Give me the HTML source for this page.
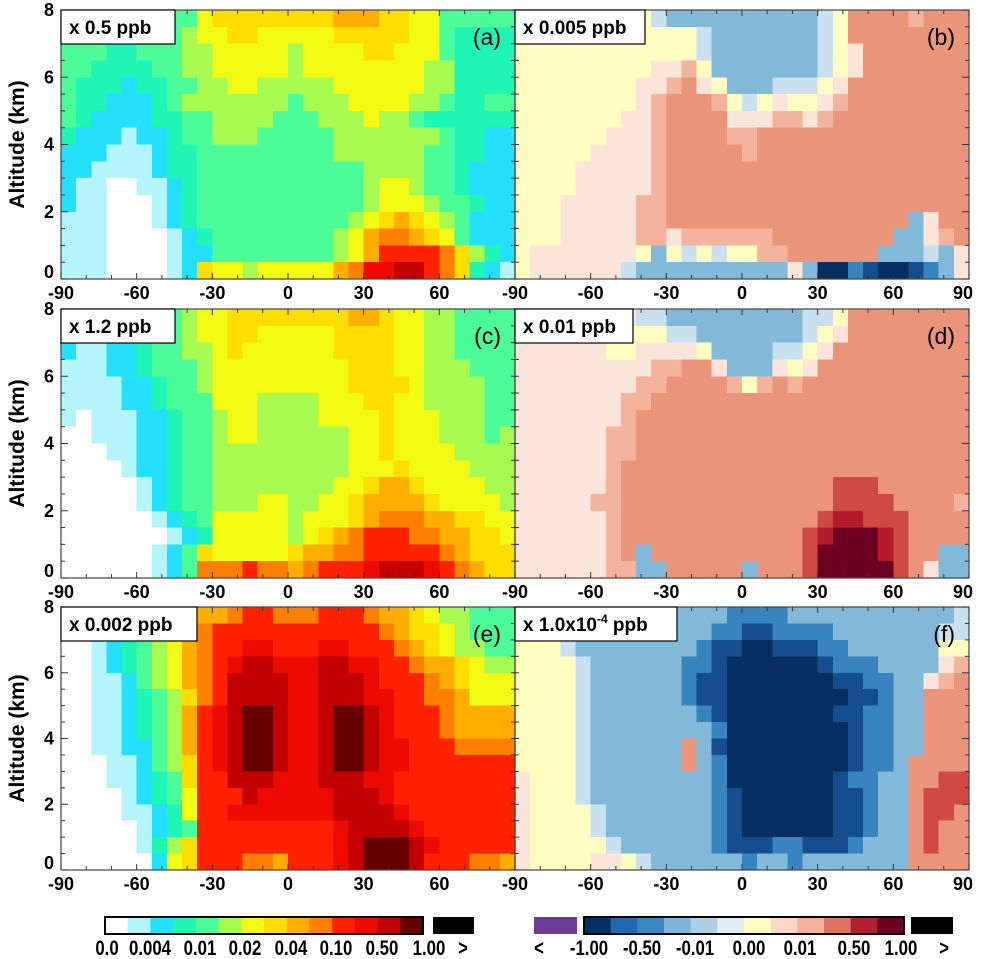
<!DOCTYPE html>
<html><head><meta charset="utf-8"><style>
html,body{margin:0;padding:0;background:#fff;}
svg{display:block;font-family:"Liberation Sans",sans-serif;}
</style></head><body>
<svg id="chart" width="983" height="959" viewBox="0 0 983 959" xmlns="http://www.w3.org/2000/svg">
<g id="cells" shape-rendering="crispEdges"></g>
<g id="axes"></g>
</svg>
<script>
// ---- data (class indices, rows from 8 km down to 0 km, columns -90..90 in 6 deg bins) ----
const latBins = [-90,-84,-78,-72,-66,-60,-54,-48,-42,-36,-30,-24,-18,-12,-6,0,6,12,18,24,30,36,42,48,54,60,66,72,78,84];
const altBins = [7.5,7,6.5,6,5.5,5,4.5,4,3.5,3,2.5,2,1.5,1,0.5,0];
const xTicks = [-90,-60,-30,0,30,60,90];
const yTicks = [0,2,4,6,8];
const leftLabels = ["0.0","0.004","0.01","0.02","0.04","0.10","0.50","1.00"];
const rightLabels = ["-1.00","-0.50","-0.01","0.00","0.01","0.50","1.00"];
const panelA = [
"44444 44446 77777 77788 87766 44444","44444 44456 67766 66677 77766 43333","44433 44455 66666 56666 77666 43333","44333 34455 66666 56666 66665 53333",
"43332 33445 56655 55566 66665 53333","43322 23455 55555 45556 66655 43344","43222 23344 55554 44555 65543 33333","32221 22344 55544 44455 55555 43322",
"22211 12334 44444 44455 55554 43322","22111 12334 44444 44444 55554 43222","21100 11234 44444 44444 56654 43222","21100 01234 44444 44444 56665 44322",
"11100 01234 44444 44445 67876 54222","11100 00123 44444 44456 89987 64222","11100 00122 44444 44456 8aaaa 97532","11100 00127 66566 66689 bbcca 97321"];
const panelB = [
"55555 55554 33333 33333 45888 87888","55555 55555 55433 33333 45888 88888","55555 55555 55433 33333 45688 88888","55555 55556 67533 33333 45688 88888",
"55555 55566 78653 33444 56888 88888","55555 55567 88875 45655 67888 88888","55555 55667 88886 66776 78888 88888","55555 56667 88887 78888 88888 88888",
"55555 66667 88888 78888 88888 88888","55556 66667 88888 88888 88888 88888","55556 66667 88888 88888 88888 88888","55566 66677 88888 88888 88888 88888",
"55566 66677 88888 88888 88888 83688","55566 66677 67777 77888 88888 33678","56666 66653 54545 57788 88883 33436","56666 66433 33333 33363 00210 01236"];
const panelC = [
"22333 33456 67777 77778 87665 54444","22333 33456 67766 66677 77665 54444","21122 34455 67666 66677 77665 54444","11122 34445 66666 66667 77665 55444",
"11112 23445 66666 66667 77765 55544","11112 23444 66655 55666 77665 55544","10111 22344 56655 55666 67666 55544","00111 22344 56655 55556 67666 55545",
"00011 22344 55555 55556 67666 65555","00001 22344 55555 55556 66766 66555","00000 12344 55555 55566 78876 66655","00000 12344 55566 55667 88887 66665",
"00000 01234 66666 56667 89998 87766","00000 00123 66666 56789 aaa99 88776","00000 01247 66666 78899 aaaaa 98777","00000 01249 99a99 89aaa bcccb a9877"];
const panelD = [
"66666 66644 33333 33334 45888 88888","66666 55555 44333 33334 56888 88888","66666 65566 66533 33445 68888 88888","66666 66667 78863 33656 88888 88888",
"66666 66677 88887 57878 88888 88888","66666 66778 88888 88888 88888 88888","66666 66788 88888 88888 88888 88888","66666 67788 88888 88888 88888 88888",
"66666 67788 88888 88888 88888 88888","66666 67888 88888 88888 88888 88888","66666 67888 88888 88888 89998 88888","66666 77888 88888 88888 89999 88887",
"66666 67888 88888 88888 9aa99 98888","66666 67888 88888 88889 abbba 98888","66666 67838 88888 88889 bbbba 98833","66666 67733 88888 38889 bbbbb 98633"];
const panelE = [
"00001 23458 89aa9 99aaa 98876 55444","00123 45789 aaaaa aaaaa a9877 65444","00123 45689 aabba aabba aa987 65544","00123 45689 abccb bbccb baa98 87655",
"00112 45689 acccc bbccc baaa9 87666","00112 34579 acccc bbccc bbaa9 98666","00112 3458a bcddc bbcdd cbaaa 98888","00112 3458a bcddc bbcdd cbaaa 98888",
"00112 2458a bcddc bbcdd cbbaa a9999","00011 2457a bcddc bbcdd cbbaa aaaaa","00011 2347a acccb bbccc bbaaa aaaaa","00001 2346a aacbb bbbcc cbaaa aaaaa",
"00001 1236a abbbb bbbcc ccbaa aaaaa","00000 1234a aaaaa aaabc cccba aaaaa","00000 1357a aaaaa aaabc dddcb aaaaa","00000 0267a aa998 aaabc dddca aa998"];
const panelF = [
"55554 33333 33332 22233 33333 33334","55543 33333 33322 11222 23333 33344","55543 33333 33211 00111 22333 33355","55554 33333 32210 00000 12223 33367",
"55554 33333 32110 00000 01122 33678","55554 33333 32110 00000 00112 33888","55554 33333 33210 00000 01122 33888","55554 33333 33320 00000 00122 33888",
"55554 33333 38310 00000 00122 33888","55554 33333 38320 00000 00122 38888","65554 33333 33320 00000 01223 38899","65554 33333 33321 00000 01123 38999",
"65555 43333 33321 00000 01123 38998","65555 43333 33321 00000 01123 38988","65555 54333 33321 11221 11233 38988","65555 66543 33333 23323 33333 38888"];

const LPAL = ["#ffffff","#b3f5fb","#25e0fc","#1ff5b5","#4cfc98","#a7fb50","#f3fa14","#fedd00","#ffae00","#ff8000","#ff2200","#ec0b00","#c20000","#660000"];
const RPAL = ["#062f5f","#154e8f","#3884be","#82b9d9","#c9e0ee","#fffec0","#fbe5da","#f4b39c","#ea957a","#d04a44","#b41c2e","#6b0020"];
const LBAR = ["#ffffff","#b3f5fb","#25e0fc","#1ff5b5","#4cfc98","#a7fb50","#f3fa14","#fedd00","#ffae00","#ff8000","#ff2200","#ec0b00","#c20000","#660000"];
const RBAR = ["#05305f","#2369b0","#3a86be","#7fb5d8","#acd0e5","#e1edf3","#ffffc0","#fdd8c4","#f4b29a","#e07360","#b2202f","#6b0020"];

const panels = [
 {id:"a",data:panelA,pal:LPAL,x0:61,w:454,yt:10,yb:279,label:"x 0.5 ppb",bw:114,left:true,xt:[-90,-60,-30,0,30,60]},
 {id:"b",data:panelB,pal:RPAL,x0:515,w:454,yt:10,yb:279,label:"x 0.005 ppb",bw:130,left:false,xt:xTicks},
 {id:"c",data:panelC,pal:LPAL,x0:61,w:454,yt:309,yb:578,label:"x 1.2 ppb",bw:114,left:true,xt:[-90,-60,-30,0,30,60]},
 {id:"d",data:panelD,pal:RPAL,x0:515,w:454,yt:309,yb:578,label:"x 0.01 ppb",bw:118,left:false,xt:xTicks},
 {id:"e",data:panelE,pal:LPAL,x0:61,w:454,yt:607,yb:870,label:"x 0.002 ppb",bw:136,left:true,xt:[-90,-60,-30,0,30,60]},
 {id:"f",data:panelF,pal:RPAL,x0:515,w:454,yt:607,yb:870,label:"x 1.0x10",sup:"-4",bw:162,left:false,xt:xTicks}
];
const NS="http://www.w3.org/2000/svg";
const cellsG=document.getElementById('cells');
const axesG=document.getElementById('axes');
function mk(tag,attrs,parent){const e=document.createElementNS(NS,tag);for(const k in attrs)e.setAttribute(k,attrs[k]);parent.appendChild(e);return e;}

panels.forEach(p=>{
  const xs=lat=>p.x0+(lat+90)/180*p.w;
  const ys=alt=>p.yb-alt/8*(p.yb-p.yt);
  const g=mk('g',{},cellsG);
  
  
  p.data.forEach((row,ri)=>{
    const s=row.replace(/ /g,'');
    const a0=altBins[ri], a1=a0+0.5;
    for(let ci=0;ci<latBins.length;ci++){
      const v=parseInt(s[ci],16);
      const l0=latBins[ci], l1=l0+6;
      const x=xs(l0), y=ys(a1);
      const r=mk('rect',{x:x.toFixed(2),y:y.toFixed(2),width:(xs(l1)-x+0.6).toFixed(2),height:(ys(a0)-y+0.6).toFixed(2),fill:p.pal[v]},g);
      
      
    }
  });
  const fr=mk('rect',{x:p.x0,y:p.yt,width:p.w,height:p.yb-p.yt,fill:'none',stroke:'#444','stroke-width':1.2},axesG);
  
  
  for(let lat=-90;lat<=90;lat+=10){
    const x=xs(lat), L=(lat%30===0)?6:4;
    mk('line',{x1:x,y1:p.yt,x2:x,y2:p.yt+L,stroke:'#333','stroke-width':1},axesG);
    mk('line',{x1:x,y1:p.yb,x2:x,y2:p.yb-L,stroke:'#333','stroke-width':1},axesG);
  }
  for(let a=0;a<=8;a+=0.5){
    const y=ys(a), L=(a%2===0)?7:4;
    if(p.left) mk('line',{x1:p.x0,y1:y,x2:p.x0+L,y2:y,stroke:'#333','stroke-width':1},axesG);
    else mk('line',{x1:p.x0+p.w,y1:y,x2:p.x0+p.w-L,y2:y,stroke:'#333','stroke-width':1},axesG);
    if(p.left) mk('line',{x1:p.x0+p.w,y1:y,x2:p.x0+p.w-4,y2:y,stroke:'#333','stroke-width':1},axesG);
    else mk('line',{x1:p.x0,y1:y,x2:p.x0+4,y2:y,stroke:'#333','stroke-width':1},axesG);
  }
  p.xt.forEach(v=>{
    let x=xs(v); if(v===90) x-=6;
    const t=mk('text',{x:x,y:p.yb+20,'text-anchor':'middle','font-size':18,'font-weight':'bold',fill:'#000'},axesG);
    t.textContent=String(v);
    
    
  });
  if(p.left){
    yTicks.forEach(v=>{
      let y=ys(v)+6; if(v===8) y=p.yt+6; if(v===0) y=p.yb-1;
      const t=mk('text',{x:54,y:y,'text-anchor':'end','font-size':18,'font-weight':'bold',fill:'#000'},axesG);
      t.textContent=String(v);
      
      
    });
    const cy=(p.yt+p.yb)/2;
    const t=mk('text',{x:0,y:0,transform:'translate(24,'+cy+') rotate(-90)','text-anchor':'middle','font-size':21,'font-weight':'bold',fill:'#000'},axesG);
    t.textContent='Altitude (km)';
    
    
  }
  const bx=mk('rect',{x:p.x0,y:p.yt,width:p.bw,height:34,fill:'#fff',stroke:'#000','stroke-width':1.2},axesG);
  
  
  const lt=mk('text',{x:p.x0+8,y:p.yt+24,'font-size':19,'font-weight':'bold',fill:'#000'},axesG);
  lt.textContent=p.label;
  if(p.sup){const s=mk('tspan',{dy:-8,'font-size':12},lt);s.textContent=p.sup;const s2=mk('tspan',{dy:8,'font-size':19},lt);s2.textContent=' ppb';}
  
  
  const pl=mk('text',{x:p.x0+p.w-14,y:p.yt+35,'text-anchor':'end','font-size':23,fill:'#000'},axesG);
  pl.textContent='('+p.id+')';
  
  
});

function bar(x0,x1,cols,name){
  const g=mk('g',{},axesG);
  
  
  const cw=(x1-x0)/cols.length;
  cols.forEach((c,i)=>{const r=mk('rect',{x:x0+i*cw,y:917,width:cw+0.5,height:17,fill:c},g);
    
    });
  mk('rect',{x:x0,y:917,width:x1-x0,height:17,fill:'none',stroke:'#000','stroke-width':2},g);
}
bar(105,423,LBAR,'left-colorbar');
bar(584,904,RBAR,'right-colorbar');
const ob=mk('rect',{x:433,y:917,width:41,height:17,fill:'#000'},axesG);

const ob2=mk('rect',{x:911,y:917,width:42,height:17,fill:'#000'},axesG);

const ub=mk('rect',{x:534,y:917,width:43,height:17,fill:'#6c3d98'},axesG);

const lpos=[107,150,200,245,291,336,382,429];
const rpos=[589,642,695,749,800,854,901];
function lab(x,txt){const t=mk('text',{x:0,y:0,transform:'translate('+x+',955) scale(0.8,1)','text-anchor':'middle','font-size':21,'font-weight':'bold',fill:'#000'},axesG);t.textContent=txt;
  }
leftLabels.forEach((s,i)=>lab(lpos[i],s));
rightLabels.forEach((s,i)=>lab(rpos[i],s));
lab(463,'>');lab(539,'<');lab(944,'>');
</script>
</body></html>
